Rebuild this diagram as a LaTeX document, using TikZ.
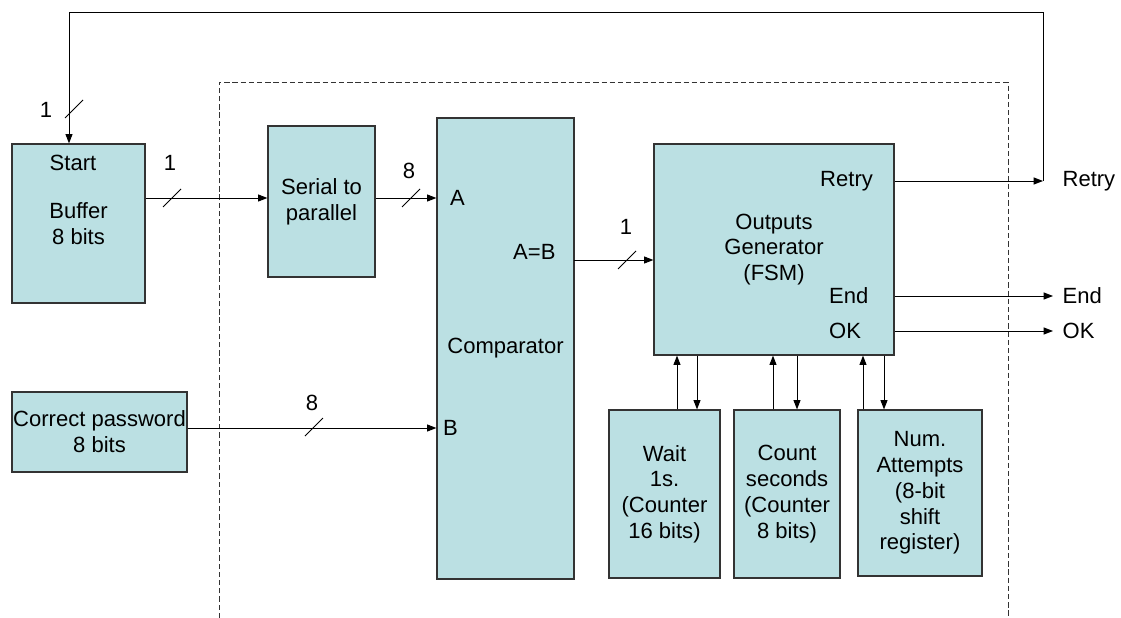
\documentclass[tikz,border=0pt]{standalone}
\usepackage{fontspec}
\setmainfont{Liberation Sans}
\usepackage{tikz}
\usetikzlibrary{arrows.meta}
\definecolor{boxfill}{RGB}{187,224,227}

\begin{document}
\begin{tikzpicture}[x=0.03cm, y=-0.03cm,
  font=\fontsize{18.8}{22}\selectfont,
  blk/.style={draw=black!80, line width=1pt, fill=boxfill, align=center, inner sep=0pt},
  lbl/.style={inner sep=0pt, anchor=west},
  outlbl/.style={inner sep=0pt, inner xsep=8pt, anchor=west},
  sig/.style={line width=0.8pt, -{Triangle[length=8pt,width=6pt]}}]
\useasboundingbox (0,0) rectangle (1121,618);
% enclosure
\draw[black!80, line width=0.8pt, dash pattern=on 4.5pt off 2.5pt] (219,618) -- (219,82) -- (1008,82) -- (1008,618);
% blocks
\node[blk, minimum width=3.99cm, minimum height=4.77cm] (buf) at (78.5,223.5) {Buffer\\8 bits};
\node[blk, minimum width=5.25cm, minimum height=2.4cm] (pwd) at (99.5,432) {Correct password\\8 bits};
\node[blk, minimum width=3.21cm, minimum height=4.53cm] (ser) at (321.5,201.5) {Serial to\\parallel};
\node[blk, minimum width=4.11cm, minimum height=13.83cm] (cmp) at (505.5,348.5) {Comparator};
\node[blk, minimum width=7.2cm, minimum height=6.33cm] (fsm) at (774,249.5) {Outputs\\Generator\\(FSM)};
\node[blk, minimum width=3.33cm, minimum height=5.04cm] (wait) at (664.5,494) {Wait\\1s.\\(Counter\\16 bits)};
\node[blk, minimum width=3.18cm, minimum height=5.04cm] (cnt) at (787,494) {Count\\seconds\\(Counter\\8 bits)};
\node[blk, minimum width=3.72cm, minimum height=4.98cm] (num) at (920,493) {Num.\\Attempts\\(8-bit\\shift\\register)};
% ports
\node (pStart) at (73,163) {Start};
\node[lbl] (pA) at (450,198) {A};
\node[lbl] (pEq) at (513,252) {A=B};
\node[lbl] (pB) at (443,428) {B};
\node[lbl] (pRetry) at (820,181) {Retry};
\node[lbl] (pEnd) at (829,296) {End};
\node[lbl] (pOK) at (829,331) {OK};
\node[outlbl] (oRetry) at (1053,181) {Retry};
\node[outlbl] (oEnd) at (1053,296) {End};
\node[outlbl] (oOK) at (1053,331) {OK};
% bus widths
\node (w1) at (46,110) {1};
\node (w2) at (170,163) {1};
\node (w3) at (409,171) {8};
\node (w4) at (626,227) {1};
\node (w5) at (312,403) {8};
\foreach \x/\y in {74/109, 172/198, 411/198, 627/260, 314/427}
  \draw[line width=0.8pt] (\x-9,\y+9) -- (\x+9,\y-9);
% signals
\coordinate (eqout) at (574,260);
\coordinate (fb) at (1043,181);
\coordinate (fbtop) at (1043,12);
\draw[sig] (buf.east |- pA) -- (ser.west |- pA);
\draw[sig] (ser.east |- pA) -- (cmp.west |- pA);
\draw[sig] (pwd.east |- pB) -- (cmp.west |- pB);
\draw[sig] (eqout) -- (fsm.west |- eqout);
\draw[sig] (fsm.east |- pRetry) -- (fb);
\draw[sig] (fb) -- (fbtop) -| ([xshift=-0.285cm]buf.north);
\draw[sig] (fsm.east |- pEnd) -- (oEnd.west);
\draw[sig] (fsm.east |- pOK) -- (oOK.west);
\foreach \b/\u/\d in {wait/677/697, cnt/773/797, num/863/884} {
  \draw[sig] (\u,0 |- \b.north) -- (\u,0 |- fsm.south);
  \draw[sig] (\d,0 |- fsm.south) -- (\d,0 |- \b.north);
}
\end{tikzpicture}
\end{document}
